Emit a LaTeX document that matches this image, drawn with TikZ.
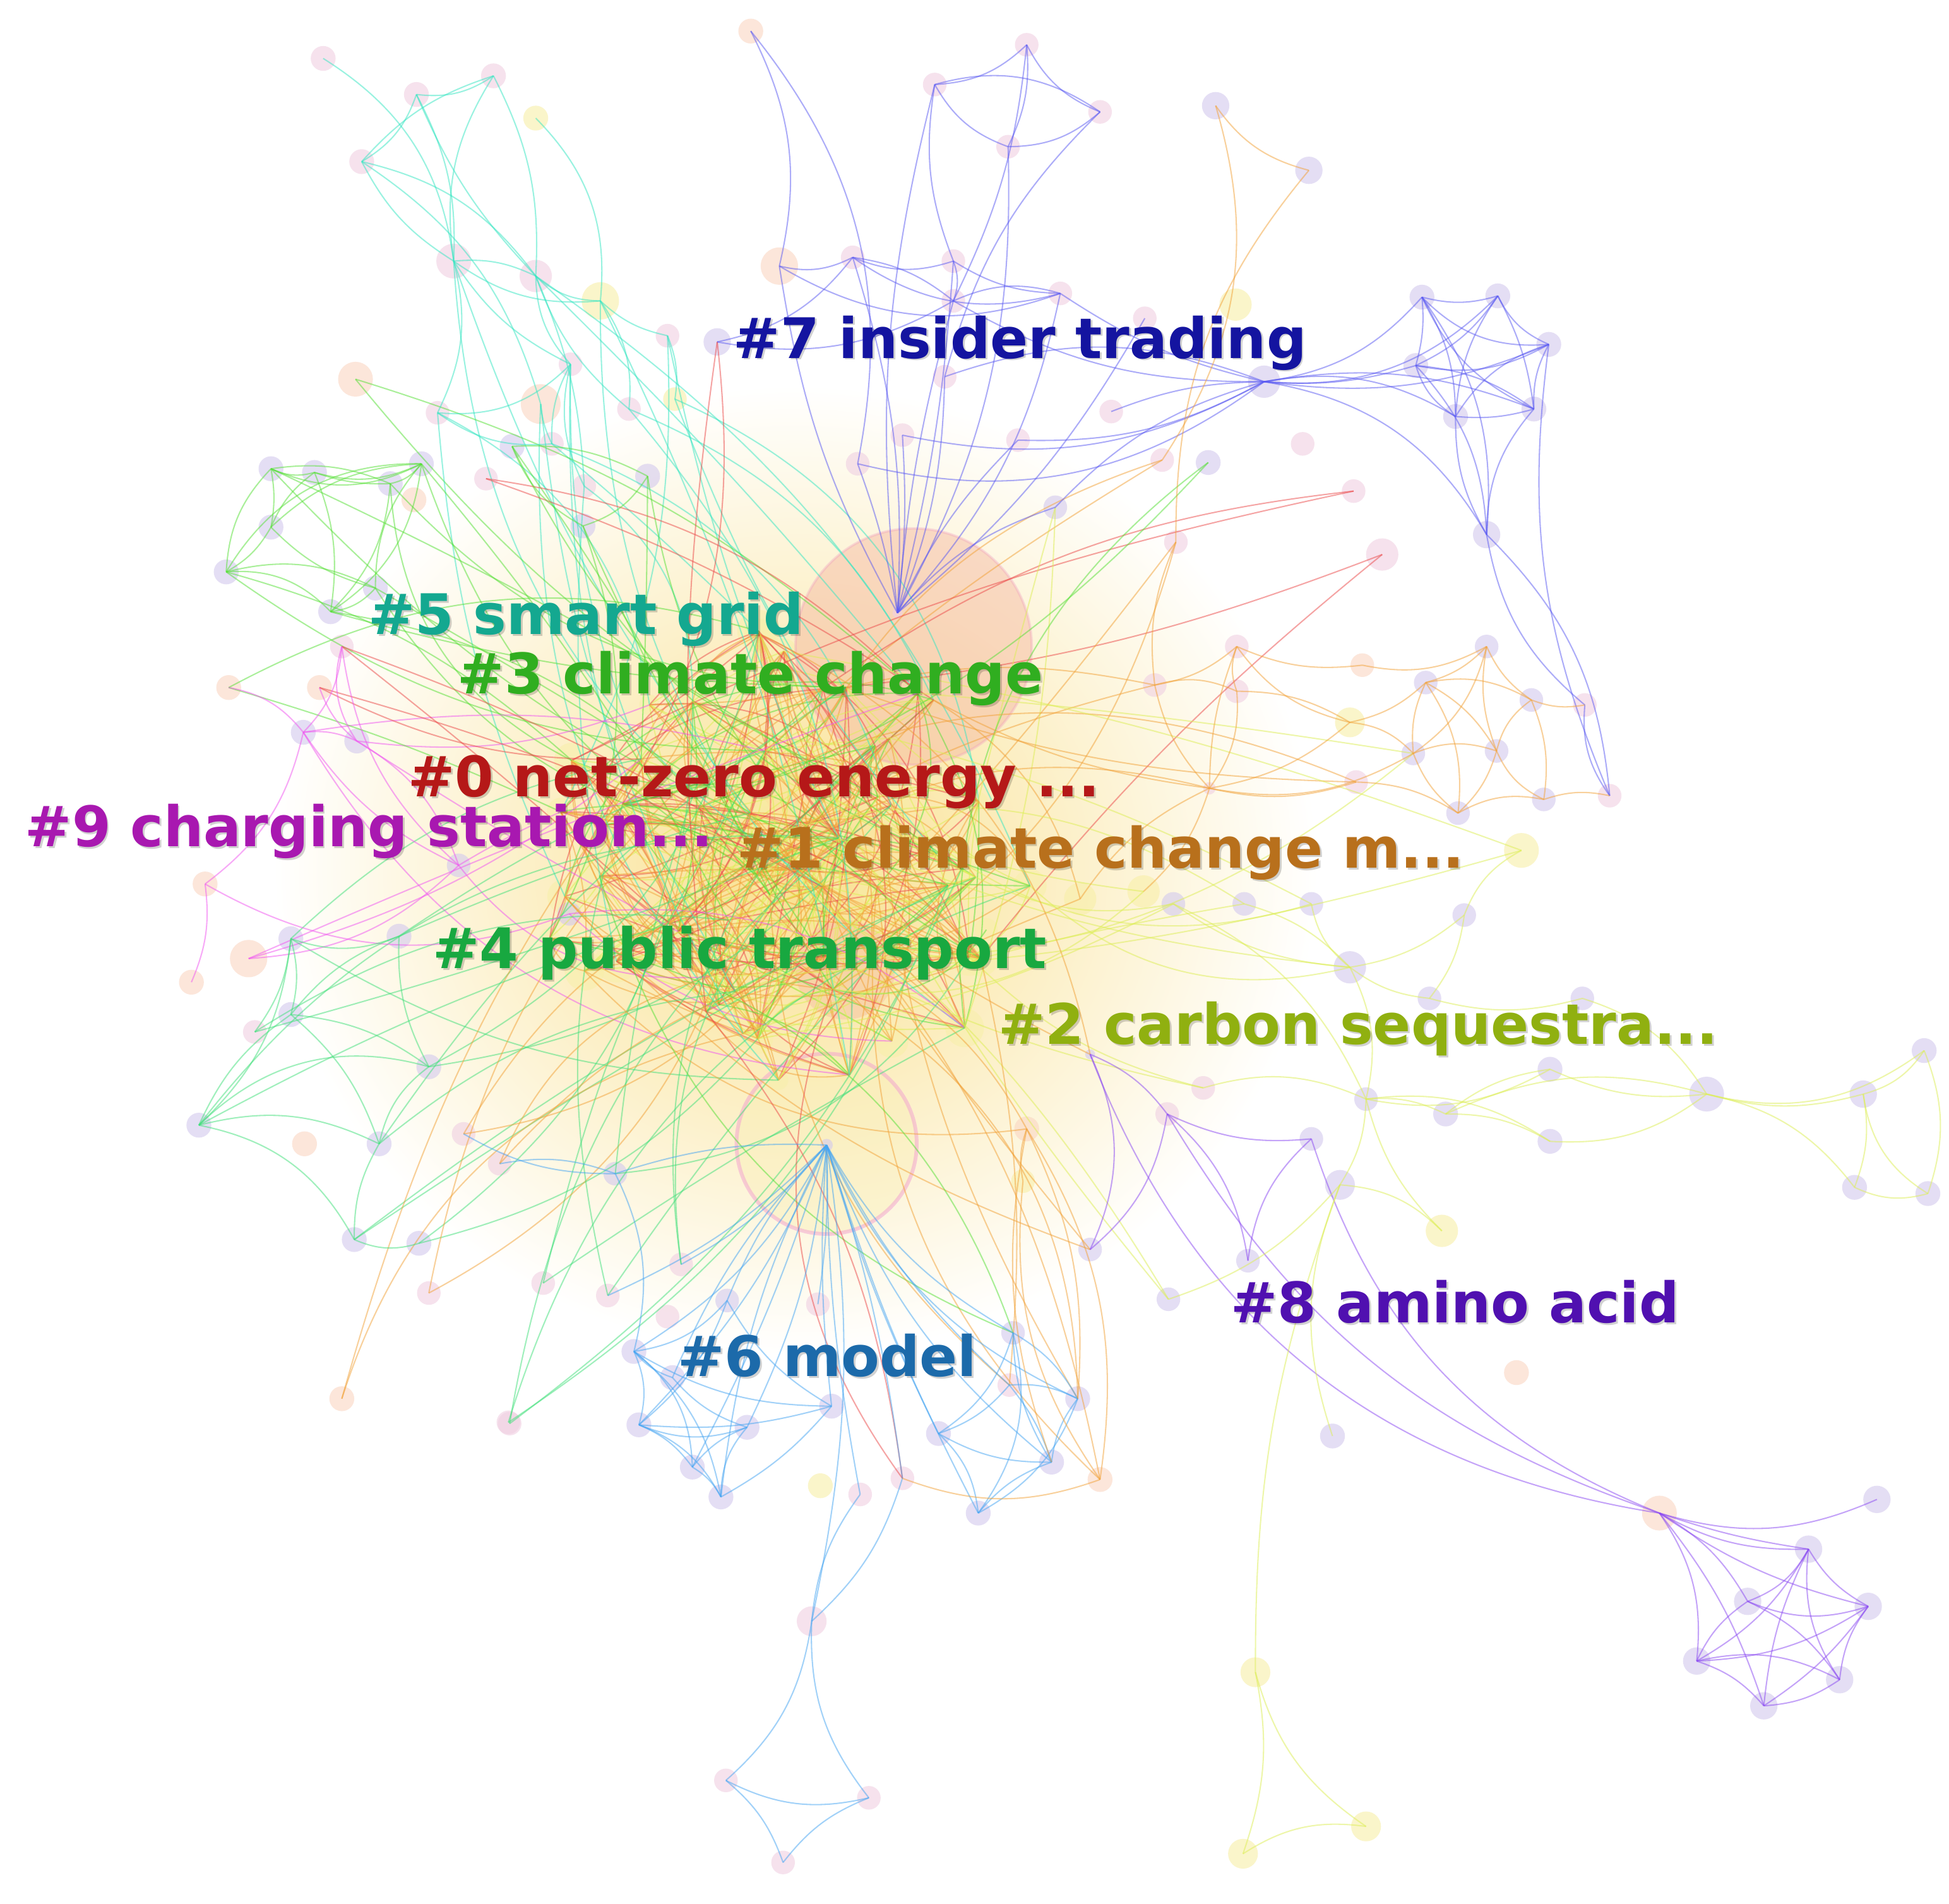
\documentclass[tikz,border=0pt]{standalone}
\usepackage{fontspec}
\setmainfont{DejaVu Sans}
\definecolor{fL}{HTML}{D3C9EE}
\definecolor{fP}{HTML}{F0D0E2}
\definecolor{fO}{HTML}{FAD6C2}
\definecolor{fY}{HTML}{F8EFA8}
\definecolor{glow}{HTML}{F9E08E}
\definecolor{salm}{HTML}{F5B59F}
\definecolor{salmring}{HTML}{F0A0C0}
\definecolor{salm2}{HTML}{F5B0A0}
\definecolor{ringfill}{HTML}{F8EEB0}
\definecolor{ringdraw}{HTML}{F2A0D0}
\definecolor{e0}{HTML}{EC4A4A}
\definecolor{e1}{HTML}{F2A238}
\definecolor{e2}{HTML}{DDEE55}
\definecolor{e3}{HTML}{55E035}
\definecolor{e4}{HTML}{40E07A}
\definecolor{e5}{HTML}{35E6C2}
\definecolor{e6}{HTML}{45A5F2}
\definecolor{e7}{HTML}{5A5AF2}
\definecolor{e8}{HTML}{8A48F2}
\definecolor{e9}{HTML}{F055F0}
\colorlet{c0}{e0}\colorlet{c1}{e1}\colorlet{c2}{e2}\colorlet{c3}{e1}
\colorlet{c4}{e2}\colorlet{c5}{e0}\colorlet{c6}{e1}\colorlet{c7}{e3}
\definecolor{t0}{HTML}{B51818}
\definecolor{t1}{HTML}{B8701C}
\definecolor{t2}{HTML}{90B010}
\definecolor{t3}{HTML}{30AE20}
\definecolor{t4}{HTML}{18A840}
\definecolor{t5}{HTML}{14A890}
\definecolor{t6}{HTML}{1C6AAA}
\definecolor{t7}{HTML}{1414A0}
\definecolor{t8}{HTML}{5010B0}
\definecolor{t9}{HTML}{A818B0}
\begin{document}
\begin{tikzpicture}[x=1pt,y=-1pt,
  ed/.style={line width=1.05pt,draw opacity=0.5},
  lab/.style={anchor=base west,inner sep=0pt,font=\fontsize{45}{50}\selectfont\bfseries},
  shd/.style={lab,text=black,text opacity=0.18,xshift=1.5pt,yshift=-1.5pt}]
\useasboundingbox (0,0) rectangle (1568,1531);
\fill[white] (0,0) rectangle (1568,1531);
% central glow
\shade[inner color=glow,outer color=white] (640,700) ellipse (420 and 390);
\pgfmathsetseed{4242}
% center nodes
\foreach \i in {1,...,60}{
  \pgfmathsetmacro\ang{rnd*360}
  \pgfmathsetmacro\rr{sqrt(rnd)}
  \pgfmathsetmacro\cx{640+210*\rr*cos(\ang)}
  \pgfmathsetmacro\cy{695+190*\rr*sin(\ang)}
  \pgfmathsetmacro\sz{14+rnd*22}
  \node[circle,inner sep=0pt,minimum size=\sz pt,fill=fY,fill opacity=0.5] (z\i) at (\cx,\cy) {};
}
% big citation blobs
\node[circle,inner sep=0pt,minimum size=190pt,fill=salm,fill opacity=0.45,draw=salmring,draw opacity=0.35,line width=2pt] (big0) at (735,520) {};
\node[circle,inner sep=0pt,minimum size=80pt,fill=salm2,fill opacity=0.35] (big1) at (680,780) {};
\node[circle,inner sep=0pt,minimum size=145pt,fill=ringfill,fill opacity=0.35,draw=ringdraw,draw opacity=0.5,line width=3pt] (big2) at (665,920) {};
% named nodes
\foreach \nm/\xx/\yy/\ff/\ss in {
t7a/604/25/O/20, k7a/826/36/P/19, k7b/752/68/P/19, k7c/885/90/P/19, k7d/811/118/P/19,
o1x/978/85/L/22, o1y/1053/137/L/22,
p7a/627/214/O/30, p7b/686/207/P/19, p7c/767/210/P/19, p7d/853/236/P/19, p7e/767/242/P/19,
p7f/577/275/L/22, p7g/994/245/Y/26, p7h/921/256/P/19, i7/1017/307/L/26,
j7/1144/239/L/20, k7/1205/238/L/20, l7/1246/277/L/20, m7/1139/294/L/20, n7/1234/329/L/20,
o7/1171/335/L/20, p7/1196/430/L/22, q7/1275/567/P/19, r7/1295/640/P/19,
p7i/760/303/P/19, p7j/726/350/P/19, p7k/819/354/P/19, p7l/690/373/P/19, p7m/894/331/P/19,
p7n/935/370/P/19, p7o/972/372/L/20, p7p/1048/357/P/19, p7q/1089/395/P/19, p7r/1112/446/P/26,
p7s/946/436/P/19, p7t/849/408/L/19, hub7/722/493/P/8,
s5a/260/47/P/20, s5b/335/76/P/20, s5c/397/61/P/20, s5d/291/130/P/20, s5e/431/95/Y/20,
s5f/365/210/P/28, s5g/431/222/P/26, s5h/483/242/Y/30, s5i/537/270/P/19, s5j/459/293/P/19,
s5k/286/305/O/28, s5l/435/325/O/32, s5m/506/329/P/19, s5n/352/332/P/19, s5o/543/321/Y/19,
s5p/444/357/P/19, s5q/470/391/P/19,
g3a/218/377/L/20, g3b/253/380/L/20, g3c/339/373/L/20, g3d/314/389/L/20, g3e/218/424/L/20,
g3f/182/460/L/20, g3g/266/492/L/20, g3h/302/473/L/20, g3i/333/402/O/20, g3j/412/359/L/20,
g3k/521/383/L/20, g3l/469/423/L/20, g3m/391/385/P/19,
m9a/244/589/L/20, m9b/287/596/L/20, m9c/184/553/O/20, m9d/257/553/O/20, m9e/369/696/L/19,
m9f/165/711/O/20, m9g/458/735/L/19, m9h/200/771/O/30, m9i/154/790/O/20, m9k/275/520/P/19,
g4a/234/755/L/20, g4b/321/753/L/20, g4c/234/816/L/20, g4d/160/905/L/20, g4e/345/858/L/20,
g4f/305/920/L/20, g4g/245/920/O/20, g4h/285/997/L/20, g4i/337/1000/L/20, g4j/275/1125/O/20,
g4k/410/1145/P/19, g4l/345/1040/P/19, g4m/205/830/P/19,
b6h/665/921/L/10, b6a/495/944/L/19, b6b/402/936/P/19, b6c/373/912/P/19, b6d/437/1032/P/19,
b6e/489/1042/P/19, b6f/548/1017/P/19, b6g/537/1059/P/19, b6i/585/1046/L/19, b6j/658/1049/P/19,
b6k/510/1087/L/20, b6l/541/1108/L/20, b6m/409/1144/P/19, b6n/514/1146/L/20, b6o/601/1148/L/20,
b6p/669/1131/L/20, b6q/557/1180/L/20, b6r/580/1204/L/20, b6s/660/1195/Y/20, b6t/692/1202/P/19,
b6u/726/1189/P/19, b6v/815/1072/L/19, b6w/812/1114/P/19, b6x/867/1125/L/20, b6y/755/1153/L/20,
b6z/846/1176/L/20, b6A/787/1217/L/20, b6B/653/1304/P/24, b6C/584/1432/P/19, b6D/699/1446/P/19,
b6E/630/1498/P/19,
v8a/877/848/L/8, v8b/939/896/P/19, v8c/1055/916/L/19, v8d/1004/1014/L/19, v8e/877/1005/L/19,
v8f/1220/1104/O/20, v8h/1335/1217/O/28, v8i/1510/1206/L/22, v8j/1455/1246/L/22, v8k/1503/1292/L/22,
v8l/1406/1288/L/22, v8m/1365/1336/L/22, v8n/1419/1372/L/22, v8o/1480/1351/L/22,
y2a/1086/778/L/26, y2b/944/727/L/19, y2c/1001/727/L/19, y2d/1055/727/L/19, y2e/1178/736/L/19,
y2f/1224/684/Y/28, y2g/1099/884/L/19, y2h/1247/860/L/20, y2i/1163/896/L/20, y2j/1247/918/L/20,
y2k/1373/880/L/28, y2l/1499/880/L/22, y2m/1548/845/L/20, y2n/1492/955/L/20, y2o/1551/960/L/20,
y2p/968/875/P/19, y2q/1078/953/L/24, y2r/1010/1345/Y/24, y2s/1000/1491/Y/24, y2t/1099/1469/Y/24,
y2u/1150/803/L/19, y2v/1273/803/L/19, y2w/1160/990/Y/26, y2x/940/1045/L/19, y2y/1072/1155/L/20,
o1a/995/520/P/19, o1b/929/551/P/19, o1c/995/556/P/19, o1d/1086/581/Y/24, o1e/973/634/P/10,
o1f/1196/520/L/19, o1g/1147/549/L/19, o1h/1232/563/L/19, o1i/1137/606/L/19, o1j/1204/604/L/19,
o1k/1091/629/P/19, o1l/1173/654/L/19, o1m/1242/643/L/19, o1p/1096/535/O/19, o1q/826/908/O/20,
o1r/869/723/Y/26, o1s/920/717/Y/26, o1t/885/1190/O/20, o1v/823/950/Y/19}
  \node[circle,inner sep=0pt,minimum size=\ss pt,fill=f\ff,fill opacity=0.6] (\nm) at (\xx,\yy) {};
% random center edges
\foreach \i in {1,...,320}{
  \pgfmathtruncatemacro\a{random(1,60)}
  \pgfmathtruncatemacro\b{mod(\a+random(1,59)-1,60)+1}
  \pgfmathtruncatemacro\k{random(0,7)}
  \pgfmathtruncatemacro\bb{random(-35,35)}
  \draw[ed,draw=c\k] (z\a.center) to[bend left=\bb] (z\b.center);
}
% peripheral nodes to center
\foreach \a/\c in {s5f/e5, s5g/e5, s5h/e5, s5i/e5, s5j/e5, s5m/e5, s5o/e5, s5p/e5, s5q/e5, s5l/e5, s5k/e3, s5n/e5,
 g3a/e3, g3c/e3, g3d/e3, g3f/e3, g3g/e3, g3h/e3, g3j/e3, g3k/e3, g3l/e3, g3m/e0,
 m9a/e9, m9b/e9, m9e/e9, m9g/e9, m9h/e9, m9k/e0, m9d/e0, m9c/e3,
 g4a/e4, g4b/e4, g4e/e4, g4f/e4, g4h/e4, g4i/e4, g4k/e4, g4j/e1, g4l/e1, g4d/e4, g4m/e4,
 b6a/e4, b6b/e1, b6c/e1, b6d/e4, b6e/e4, b6f/e4, b6m/e4,
 p7f/e0, p7n/e1, p7q/e0, p7r/e0, p7s/e1, p7t/e2, p7o/e3,
 o1b/e1, o1e/e1, o1k/e1, o1r/e1, o1s/e2, o1q/e1, o1t/e1, o1i/e2,
 y2b/e2, y2c/e2, y2p/e2, y2x/e2, y2a/e2, y2f/e2, y2d/e2,
 v8a/e1, v8e/e1, b6v/e3, b6x/e1, b6w/e1, b6u/e0}{
  \foreach \j in {1,2}{
    \pgfmathtruncatemacro\k{random(1,60)}
    \pgfmathtruncatemacro\bb{random(-30,30)}
    \draw[ed,draw=\c] (\a.center) to[bend left=\bb] (z\k.center);
  }
}
% cluster 7
\foreach \a/\b/\c in {k7a/k7b/20, k7a/k7c/-20, k7a/k7d/15, k7b/k7c/25, k7b/k7d/-20, k7c/k7d/20,
 k7b/p7c/-15, k7a/p7e/10, k7d/hub7/15, k7b/hub7/-10, k7c/p7i/-15, t7a/p7l/25, t7a/p7a/20,
 p7a/p7b/-20, p7b/p7c/-20, p7b/p7d/-25, p7c/p7d/-15, p7b/p7e/15, p7c/p7e/20, p7d/p7e/-20, p7a/p7d/-25,
 p7b/hub7/10, p7c/hub7/5, p7e/hub7/-5, p7d/hub7/15, p7i/hub7/10, p7a/hub7/-10, p7j/hub7/5,
 p7k/hub7/-10, p7t/hub7/-15, p7l/hub7/5, p7h/hub7/10,
 p7e/i7/-15, p7d/i7/-10, p7i/i7/20, p7k/i7/-15, p7j/i7/-20, p7l/i7/-25, p7t/i7/15, p7m/i7/10,
 p7f/p7e/-20, p7f/p7b/-20,
 i7/j7/-20, i7/k7/-25, i7/m7/-10, i7/l7/-15, i7/n7/15, i7/o7/20, i7/p7/25,
 j7/k7/-15, j7/l7/-25, j7/m7/10, j7/n7/-20, j7/o7/15, j7/p7/20, k7/l7/-20, k7/m7/15, k7/n7/10,
 k7/o7/-15, l7/m7/20, l7/n7/-15, l7/o7/-20, m7/n7/15, m7/o7/-20, n7/o7/10, m7/p7/20, o7/p7/-15,
 n7/p7/-20, p7/q7/-20, p7/r7/20, q7/r7/-20, l7/r7/-15}
  \draw[ed,draw=e7] (\a.center) to[bend left=\c] (\b.center);
% cluster 5
\foreach \a/\b/\c in {s5a/s5f/25, s5b/s5c/-20, s5b/s5d/20, s5c/s5d/-15, s5b/s5f/15, s5c/s5f/-20,
 s5c/s5g/15, s5d/s5f/-15, s5d/s5g/20, s5b/s5g/-10, s5f/s5g/15, s5f/s5j/-15, s5f/s5n/20, s5g/s5j/-20,
 s5g/s5m/-15, s5g/s5q/10, s5g/s5h/-20, s5h/s5i/-15, s5h/s5m/20, s5n/s5p/-20, s5j/s5n/25, s5e/s5h/25,
 s5f/s5h/-20, s5j/s5p/-15, s5d/s5l/20, s5l/s5p/-10, s5i/s5o/15, s5j/s5q/-20}
  \draw[ed,draw=e5] (\a.center) to[bend left=\c] (\b.center);
% cluster 3
\foreach \a/\b/\c in {g3a/g3b/-20, g3a/g3c/-25, g3b/g3c/-20, g3a/g3d/15, g3a/g3e/10, g3b/g3e/-15,
 g3b/g3d/-10, g3c/g3d/20, g3a/g3f/-20, g3e/g3f/15, g3f/g3g/25, g3f/g3h/20, g3e/g3h/-15, g3b/g3g/15,
 g3c/g3h/-20, g3d/g3g/20, g3c/g3g/25, g3c/g3e/-20, g3g/g3h/-20, g3f/g3c/30, g3j/g3l/-20, g3j/g3k/15,
 g3k/g3l/20}
  \draw[ed,draw=e3] (\a.center) to[bend left=\c] (\b.center);
% cluster 9
\foreach \a/\b/\c in {m9k/m9a/20, m9k/m9e/-20, m9a/m9b/15, m9a/m9e/-15, m9b/m9e/20, m9d/m9b/-15,
 m9c/m9a/20, m9f/m9g/-25, m9f/m9i/15, m9h/m9e/-20, m9a/m9f/20, m9k/m9b/-25}
  \draw[ed,draw=e9] (\a.center) to[bend left=\c] (\b.center);
% cluster 4
\foreach \a/\b/\c in {g4a/g4b/-20, g4a/g4c/15, g4b/g4c/-15, g4a/g4d/20, g4c/g4d/-15, g4b/g4e/-15,
 g4c/g4e/15, g4d/g4e/30, g4d/g4f/20, g4e/g4f/-20, g4c/g4f/15, g4m/g4a/-15, g4h/g4i/-20, g4d/g4h/25,
 g4f/g4h/-15}
  \draw[ed,draw=e4] (\a.center) to[bend left=\c] (\b.center);
% cluster 6
\foreach \a/\b/\c in {b6h/b6a/-10, b6h/b6f/10, b6h/b6i/-10, b6h/b6k/15, b6h/b6l/-10, b6h/b6o/10,
 b6h/b6p/-5, b6h/b6n/10, b6h/b6q/5, b6h/b6r/-10, b6h/b6v/-15, b6h/b6w/-10, b6h/b6x/-20, b6h/b6y/-5,
 b6h/b6z/-15, b6h/b6A/-5, b6h/b6u/5, b6h/b6t/-5, b6h/b6e/10, b6h/b6j/5,
 b6k/b6l/-15, b6k/b6n/20, b6k/b6q/25, b6k/b6r/20, b6k/b6p/-15, b6n/b6q/15, b6n/b6r/20, b6l/b6o/-15,
 b6o/b6q/-15, b6o/b6r/-20, b6q/b6r/15, b6n/b6p/-10, b6i/b6n/15, b6i/b6p/-15, b6k/b6i/-20, b6a/b6k/20,
 b6c/b6a/-15, b6b/b6a/15, b6n/b6o/-20, b6p/b6r/10,
 b6v/b6x/15, b6v/b6y/20, b6v/b6z/-15, b6w/b6x/15, b6x/b6z/-15, b6y/b6z/-15, b6y/b6A/20, b6z/b6A/-15,
 b6x/b6A/20, b6v/b6A/25, b6w/b6y/15, b6w/b6z/10,
 b6t/b6B/-15, b6u/b6B/15, b6B/b6C/20, b6B/b6D/-20, b6C/b6D/-20, b6C/b6E/15, b6D/b6E/-15, b6h/b6B/10}
  \draw[ed,draw=e6] (\a.center) to[bend left=\c] (\b.center);
% cluster 8
\foreach \a/\b/\c in {v8a/v8b/15, v8a/v8e/25, v8b/v8c/-15, v8b/v8d/20, v8c/v8d/-20, v8e/v8b/-20,
 v8b/v8h/-20, v8c/v8h/-25, v8a/v8h/-30, v8h/v8i/-20, v8h/v8j/-15, v8h/v8j/-5, v8h/v8l/15, v8h/v8m/20,
 v8h/v8k/-10, v8h/v8n/10, v8j/v8k/-15, v8j/v8l/20, v8j/v8m/15, v8j/v8n/-10, v8k/v8l/20, v8k/v8m/15,
 v8k/v8o/-15, v8k/v8n/10, v8l/v8m/-15, v8l/v8o/15, v8m/v8n/15, v8m/v8o/20, v8n/v8o/-15, v8j/v8o/-20}
  \draw[ed,draw=e8] (\a.center) to[bend left=\c] (\b.center);
% cluster 2
\foreach \a/\b/\c in {y2a/y2b/15, y2a/y2c/-15, y2a/y2d/20, y2a/y2e/-15, y2a/y2g/20, y2a/y2u/-15,
 y2e/y2f/20, y2g/y2h/-20, y2g/y2i/15, y2g/y2j/20, y2g/y2p/-20, y2g/y2q/15, y2h/y2k/-15, y2i/y2k/20,
 y2j/y2k/-20, y2k/y2l/-15, y2k/y2n/20, y2l/y2m/-20, y2l/y2n/15, y2m/y2o/20, y2n/y2o/-20, y2l/y2o/-25,
 y2q/y2r/-10, y2r/y2s/15, y2r/y2t/-20, y2s/y2t/20, y2q/y2x/15, y2q/y2y/-20, y2q/y2w/20, y2u/y2v/-15,
 y2v/y2k/20, y2g/y2w/-15, y2h/y2i/-15, y2i/y2j/15, y2k/y2m/-25, y2b/y2g/20, y2e/y2u/15}
  \draw[ed,draw=e2] (\a.center) to[bend left=\c] (\b.center);
% cluster 1
\foreach \a/\b/\c in {o1a/o1b/15, o1a/o1c/-20, o1a/o1d/-20, o1b/o1c/20, o1b/o1e/-15, o1c/o1e/20,
 o1d/o1e/15, o1a/o1e/-10, o1c/o1d/15, o1e/o1k/-15, o1e/o1s/15, o1e/o1r/-15, o1f/o1g/15, o1f/o1h/-15,
 o1f/o1i/20, o1f/o1j/-15, o1g/o1h/20, o1g/o1i/-15, o1g/o1j/15, o1g/o1l/20, o1h/o1j/-20, o1h/o1m/15,
 o1i/o1j/20, o1i/o1l/-15, o1j/o1l/15, o1j/o1m/-20, o1l/o1m/20, o1h/q7/-15, o1m/r7/15, o1d/o1g/-15,
 o1d/o1i/20, o1e/o1i/-20, o1k/o1l/15, o1x/o1y/-20, o1x/p7n/25, o1y/p7s/-20, o1p/o1f/-20, o1p/o1a/15,
 o1q/o1t/20, o1q/o1v/-15, o1q/b6x/15, o1q/b6z/-15, o1v/o1t/-20, o1t/b6u/20, o1b/p7s/15}
  \draw[ed,draw=e1] (\a.center) to[bend left=\c] (\b.center);
% labels
\foreach \nm/\xx/\yy/\cc/\tt in {
 l7/590/288/t7/{\#7 insider trading},
 l5/296/510/t5/{\#5 smart grid},
 l3/368/558/t3/{\#3 climate change},
 l0/328/641/t0/{\#0 net-zero energy ...},
 l9/20/681/t9/{\#9 charging station...},
 l1/593/698/t1/{\#1 climate change m...},
 l4/348/779/t4/{\#4 public transport},
 l2/803/840/t2/{\#2 carbon sequestra...},
 l8/990/1064/t8/{\#8 amino acid},
 l6/545/1107/t6/{\#6 model}}{
  \node[shd] (\nm s) at (\xx,\yy) {\tt};
  \node[lab,text=\cc] (\nm) at (\xx,\yy) {\tt};
}
\end{tikzpicture}
\end{document}
